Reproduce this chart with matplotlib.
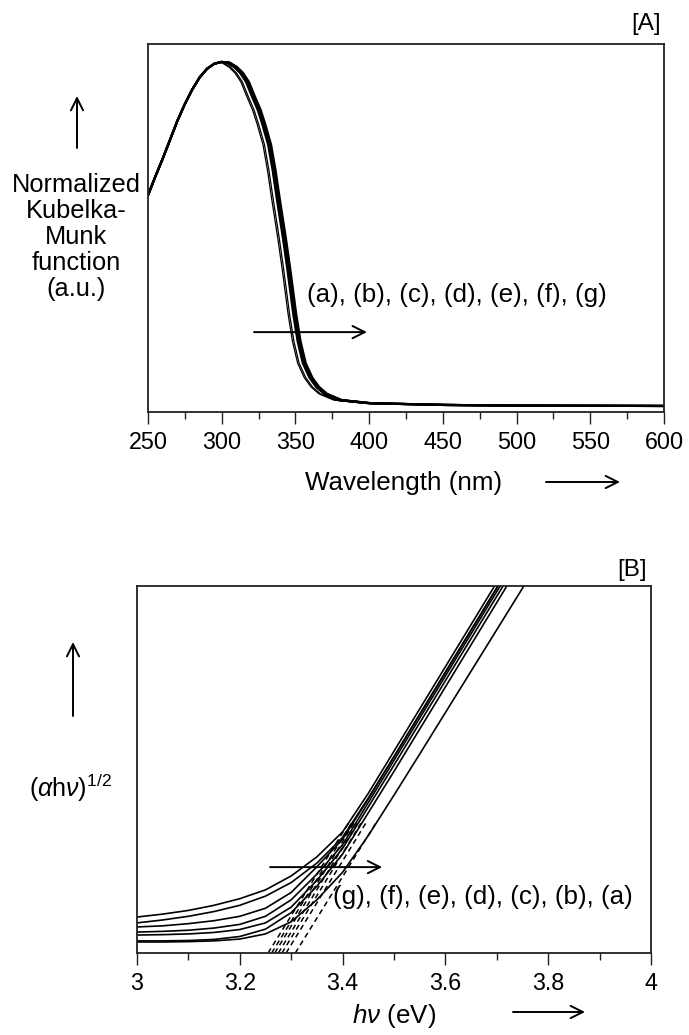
import numpy as np
import matplotlib
matplotlib.use("Agg")
from matplotlib import pyplot as plt
from matplotlib.ticker import MultipleLocator, FuncFormatter

plt.rcParams['font.family'] = ['Liberation Sans', 'DejaVu Sans']
plt.rcParams['mathtext.fontset'] = 'custom'
plt.rcParams['mathtext.rm'] = 'Liberation Sans'
plt.rcParams['mathtext.it'] = 'Liberation Sans:italic'

W, H = 689, 1035
FS = 18.7

# [A] normalized Kubelka-Munk spectra, shared rise up to the maximum
rise_wl = [250, 255, 260, 265, 270, 275, 280, 285, 290, 295, 300]
rise_val = [0.614, 0.668, 0.720, 0.775, 0.830, 0.878, 0.920, 0.955, 0.980,
            0.995, 1.000]
# absorption edge and tail
edge_wl = [304, 309, 313, 317, 321, 325, 328, 332, 335, 338, 342, 345, 349,
           352, 355.5, 360, 364.6, 370, 380, 400, 450, 500, 600]
edge_val = [0.998, 0.985, 0.968, 0.942, 0.900, 0.860, 0.820, 0.760, 0.687,
            0.600, 0.490, 0.400, 0.270, 0.190, 0.127, 0.085, 0.058, 0.038,
            0.020, 0.011, 0.006, 0.004, 0.003]
samples = ['a', 'b', 'c', 'd', 'e', 'f', 'g']
edge_shift = [-4.0, -3.0, -0.5, 0.0, 0.5, 1.0, 1.5]   # nm
edge_lw = [0.9, 0.9, 1.6, 1.6, 1.6, 1.6, 1.6]

# [B] Tauc plot, (alpha h nu)^1/2 in a.u.
energy = [3.00, 3.05, 3.10, 3.15, 3.20, 3.25, 3.30, 3.35, 3.40, 3.45,
          3.50, 3.55, 3.60, 3.65, 3.70, 3.75, 3.80]
tauc = {
    'a': [0.30, 0.30, 0.31, 0.33, 0.38, 0.52, 0.85, 1.45, 2.20, 3.20,
          4.30, 5.42, 6.55, 7.68, 8.81, 9.94, 11.07],
    'b': [0.33, 0.33, 0.34, 0.37, 0.45, 0.65, 1.10, 1.82, 2.70, 3.82,
          4.95, 6.10, 7.25, 8.40, 9.55, 10.70, 11.85],
    'c': [0.49, 0.50, 0.52, 0.56, 0.64, 0.82, 1.25, 1.98, 2.85, 3.98,
          5.12, 6.27, 7.42, 8.57, 9.72, 10.87, 12.0],
    'd': [0.57, 0.59, 0.62, 0.68, 0.78, 1.00, 1.45, 2.15, 2.95, 4.10,
          5.25, 6.40, 7.55, 8.70, 9.85, 11.0, 12.1],
    'e': [0.71, 0.74, 0.80, 0.88, 1.00, 1.22, 1.65, 2.35, 3.10, 4.20,
          5.35, 6.50, 7.65, 8.80, 9.95, 11.1, 12.2],
    'f': [0.82, 0.90, 1.00, 1.13, 1.30, 1.55, 1.92, 2.45, 3.15, 4.22,
          5.35, 6.50, 7.65, 8.80, 9.95, 11.1, 12.2],
    'g': [0.98, 1.06, 1.16, 1.30, 1.48, 1.72, 2.10, 2.62, 3.30, 4.35,
          5.50, 6.65, 7.80, 8.95, 10.1, 11.2, 12.3],
}
# linear fits of the edge: band gap (x intercept) and slope
band_gap = [3.308, 3.290, 3.282, 3.275, 3.268, 3.262, 3.255]
fit_slope = [22.6, 22.8, 23.0, 23.0, 23.0, 22.8, 22.6]
fit_top = 3.6


def fig_xy(x, y):
    return x / W, 1 - y / H


def style_axes(ax):
    for s in ax.spines.values():
        s.set_linewidth(1.3)
        s.set_color('#222222')
    ax.tick_params(axis='x', which='major', direction='out', length=8.5,
                   width=1.0, labelsize=16.8, pad=5, color='#222222')
    ax.tick_params(axis='x', which='minor', direction='out', length=5,
                   width=1.0, color='#222222')
    ax.set_yticks([])


def arrow(ax, p0, p1, coords='data'):
    ax.annotate('', xy=p1, xytext=p0, xycoords=coords, textcoords=coords,
                annotation_clip=False,
                arrowprops=dict(arrowstyle='->', lw=1.4, color='black',
                                mutation_scale=22, shrinkA=0, shrinkB=0))


fig = plt.figure(figsize=(W / 100, H / 100), dpi=100)

# ---------------- panel A ----------------
axA = fig.add_axes([148 / W, 1 - 412 / H, (664 - 148) / W, (412 - 44) / H])
for s, sh, lw in zip(samples, edge_shift, edge_lw):
    x = rise_wl + [w + sh for w in edge_wl]
    y = rise_val + edge_val
    axA.plot(x, y, color='black', lw=lw, solid_joinstyle='round')
axA.set_xlim(250, 600)
axA.set_ylim(-0.0145, 1.052)
axA.xaxis.set_major_locator(MultipleLocator(50))
axA.xaxis.set_minor_locator(MultipleLocator(25))
style_axes(axA)
axA.text(357.8, 0.325, '(a), (b), (c), (d), (e), (f), (g)', fontsize=FS,
         va='center', ha='left')
arrow(axA, (321.9, 0.217), (398.5, 0.217))

fig.text(*fig_xy(661, 24), '[A]', fontsize=17.5, ha='right', va='center')
fig.text(*fig_xy(76, 237), 'Normalized\nKubelka-\nMunk\nfunction\n(a.u.)',
         fontsize=18.3, ha='center', va='center', linespacing=1.1)
arrow(axA, fig_xy(77, 148), fig_xy(77, 96), coords='figure fraction')
fig.text(*fig_xy(404, 483), 'Wavelength (nm)', fontsize=FS, ha='center',
         va='center')
arrow(axA, fig_xy(546, 482), fig_xy(620, 482), coords='figure fraction')

# ---------------- panel B ----------------
axB = fig.add_axes([137 / W, 1 - 953 / H, (651 - 137) / W, (953 - 586) / H])
for s in samples:
    axB.plot(energy, tauc[s], color='black', lw=1.2)
for eg, k in zip(band_gap, fit_slope):
    xs = np.array([eg, eg + fit_top / k])
    axB.plot(xs, k * (xs - eg), color='black', lw=1.1, ls=(0, (3.5, 2.5)))
axB.set_xlim(3.0, 4.0)
axB.set_ylim(0, 10)
axB.xaxis.set_major_locator(MultipleLocator(0.2))
axB.xaxis.set_minor_locator(MultipleLocator(0.1))
axB.xaxis.set_major_formatter(FuncFormatter(lambda v, p: '%g' % round(v, 2)))
style_axes(axB)
axB.text(3.381, 1.53, '(g), (f), (e), (d), (c), (b), (a)', fontsize=FS,
         va='center', ha='left')
arrow(axB, (3.259, 2.34), (3.477, 2.34))

fig.text(*fig_xy(647, 570), '[B]', fontsize=17.5, ha='right', va='center')
arrow(axB, fig_xy(73, 716), fig_xy(73, 642), coords='figure fraction')
fig.text(*fig_xy(71, 788), r'$(\mathit{α}\mathrm{h}\mathit{ν})^{1/2}$',
         fontsize=18, ha='center', va='center')
fig.text(*fig_xy(394, 1016), r'$\mathit{hν}$ (eV)', fontsize=FS,
         ha='center', va='center')
arrow(axB, fig_xy(513, 1012), fig_xy(585, 1012), coords='figure fraction')

fig.savefig('out.png', dpi=100)
